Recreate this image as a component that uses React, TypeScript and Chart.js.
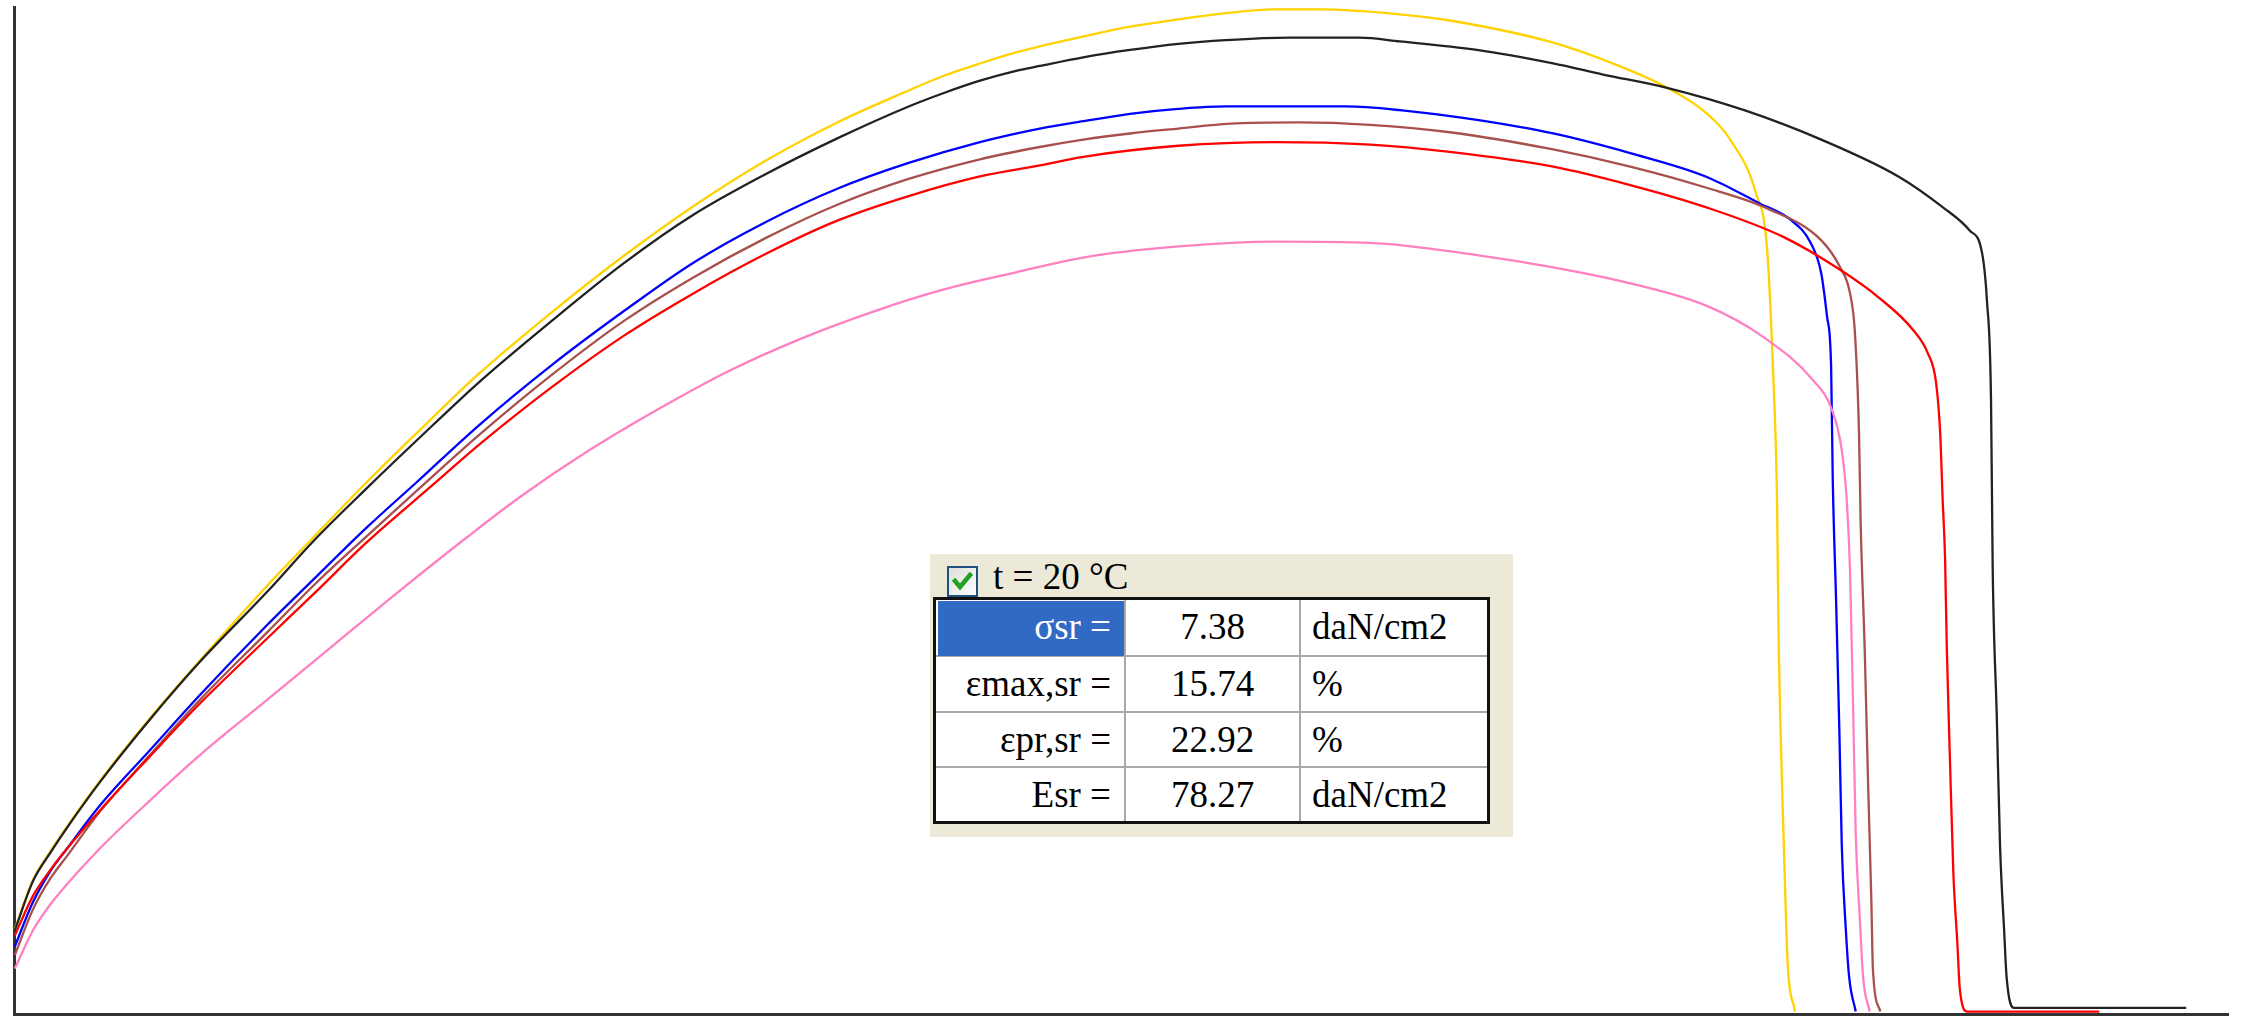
import React, { useEffect, useRef } from "react";
import { Chart, registerables } from "chart.js";

Chart.register(...registerables);

const W = 2244;
const H = 1021;

// strain (%) and stress (daN/cm2)
const yellowStrain = [0.01, 0.23, 0.44, 0.65, 1.05, 1.66, 2.27, 3.09, 3.65, 4.3, 4.91, 5.68, 6.55, 7.43, 8.29, 9.17, 10.04, 10.91, 11.34, 11.78, 12.22, 12.51, 13.04, 13.61, 14.2, 14.78, 15.37, 15.95, 16.9, 17.51, 18.77, 19.46, 20.17, 20.63, 20.96, 21.24, 21.38, 21.45, 21.5, 21.52, 21.56, 21.6, 21.63, 21.72];
const yellowStress = [0.69, 1.09, 1.32, 1.53, 1.9, 2.41, 2.88, 3.49, 3.88, 4.33, 4.73, 5.22, 5.71, 6.17, 6.58, 6.95, 7.26, 7.52, 7.64, 7.74, 7.83, 7.88, 7.96, 8.04, 8.1, 8.15, 8.18, 8.18, 8.14, 8.09, 7.91, 7.75, 7.54, 7.34, 7.09, 6.69, 6.22, 5.27, 4.19, 3.06, 1.9, 0.99, 0.41, 0.02];

const blackStrain = [0.01, 0.23, 0.44, 0.65, 1.05, 1.66, 2.27, 3.09, 3.65, 4.3, 4.91, 5.68, 6.55, 7.43, 8.29, 9.17, 10.04, 10.91, 11.34, 11.78, 12.22, 12.51, 13.04, 13.61, 14.2, 14.78, 15.56, 16.41, 16.9, 17.84, 18.77, 19.38, 20.17, 21.1, 22.04, 22.98, 23.52, 23.85, 24.0, 24.06, 24.11, 24.13, 24.18, 24.22, 24.27, 24.3, 24.39, 26.49];
const blackStress = [0.68, 1.08, 1.31, 1.52, 1.89, 2.4, 2.87, 3.44, 3.85, 4.28, 4.67, 5.15, 5.64, 6.11, 6.51, 6.84, 7.13, 7.39, 7.5, 7.6, 7.68, 7.72, 7.79, 7.85, 7.9, 7.93, 7.95, 7.95, 7.92, 7.85, 7.74, 7.65, 7.54, 7.36, 7.12, 6.82, 6.57, 6.38, 6.2, 5.81, 5.0, 3.65, 2.43, 1.37, 0.68, 0.3, 0.05, 0.05];

const blueStrain = [0.01, 0.23, 0.44, 0.65, 1.05, 1.66, 2.27, 3.09, 3.7, 4.3, 4.91, 5.68, 6.55, 7.43, 8.29, 9.17, 10.04, 10.91, 11.78, 12.51, 13.04, 13.61, 14.2, 14.78, 16.24, 16.9, 17.84, 18.77, 19.71, 20.63, 21.29, 21.66, 21.91, 22.04, 22.11, 22.16, 22.18, 22.22, 22.26, 22.29, 22.34, 22.38, 22.46];
const blueStress = [0.55, 0.91, 1.16, 1.35, 1.7, 2.15, 2.6, 3.17, 3.57, 3.96, 4.33, 4.8, 5.28, 5.72, 6.12, 6.45, 6.72, 6.93, 7.1, 7.21, 7.27, 7.33, 7.37, 7.39, 7.39, 7.36, 7.28, 7.17, 7.01, 6.82, 6.6, 6.47, 6.28, 6.03, 5.68, 5.27, 4.35, 3.38, 2.32, 1.37, 0.68, 0.3, 0.02];

const brownStrain = [0.01, 0.23, 0.44, 0.65, 1.05, 1.66, 2.27, 3.09, 3.7, 4.3, 4.91, 5.68, 6.55, 7.43, 8.29, 9.17, 10.04, 10.91, 11.78, 12.51, 13.04, 13.61, 14.2, 14.83, 15.66, 16.54, 17.51, 18.77, 19.71, 20.63, 21.38, 22.04, 22.27, 22.39, 22.45, 22.5, 22.52, 22.57, 22.61, 22.65, 22.67, 22.76];
const brownStress = [0.48, 0.85, 1.1, 1.29, 1.65, 2.11, 2.56, 3.11, 3.52, 3.89, 4.26, 4.72, 5.2, 5.64, 6.0, 6.32, 6.59, 6.8, 6.96, 7.06, 7.12, 7.17, 7.21, 7.25, 7.26, 7.24, 7.18, 7.04, 6.9, 6.73, 6.56, 6.3, 6.08, 5.87, 5.55, 4.73, 4.01, 2.96, 1.9, 0.94, 0.36, 0.02];

const redStrain = [0.01, 0.23, 0.44, 0.65, 1.05, 1.66, 2.27, 3.09, 3.7, 4.3, 5.11, 5.68, 6.55, 7.43, 8.29, 9.17, 10.04, 10.91, 11.78, 12.51, 13.04, 14.2, 15.37, 16.54, 17.51, 18.77, 19.71, 20.63, 21.57, 22.27, 22.73, 23.16, 23.34, 23.44, 23.49, 23.52, 23.55, 23.57, 23.61, 23.65, 23.7, 23.73, 23.82, 25.43];
const redStress = [0.64, 0.96, 1.17, 1.35, 1.66, 2.1, 2.53, 3.06, 3.45, 3.84, 4.31, 4.64, 5.1, 5.52, 5.87, 6.19, 6.46, 6.66, 6.82, 6.91, 6.98, 7.07, 7.1, 7.08, 7.02, 6.9, 6.75, 6.57, 6.33, 6.06, 5.84, 5.57, 5.38, 5.14, 4.73, 4.19, 3.7, 3.0, 2.05, 1.16, 0.57, 0.2, 0.02, 0.02];

const pinkStrain = [0.01, 0.23, 0.44, 0.65, 1.05, 1.66, 2.27, 3.09, 3.89, 4.71, 5.52, 6.17, 6.99, 7.87, 8.73, 9.6, 10.48, 11.34, 12.22, 13.04, 14.2, 15.37, 16.54, 17.84, 18.77, 19.71, 20.63, 21.34, 21.94, 22.17, 22.29, 22.35, 22.39, 22.43, 22.46, 22.51, 22.55, 22.63];
const pinkStress = [0.37, 0.68, 0.89, 1.06, 1.35, 1.74, 2.11, 2.56, 3.0, 3.45, 3.88, 4.21, 4.58, 4.93, 5.24, 5.5, 5.72, 5.9, 6.04, 6.16, 6.25, 6.29, 6.28, 6.18, 6.08, 5.95, 5.77, 5.51, 5.16, 4.92, 4.59, 4.19, 3.62, 2.43, 1.47, 0.78, 0.3, 0.02];

const seriesLabels = ["1", "2", "3", "4", "5", "6"];
const seriesColors = ["#FF80C0", "#FF0000", "#A8504E", "#0000FF", "#222222", "#FFD200"];
const seriesStrain = [pinkStrain, redStrain, brownStrain, blueStrain, blackStrain, yellowStrain];
const seriesStress = [pinkStress, redStress, brownStress, blueStress, blackStress, yellowStress];

const strainMax = 27;
const stressMax = 8.2;

const headerText = "t = 20 °C";
const tableLabels = ["σsr =", "εmax,sr =", "εpr,sr =", "Esr ="];
const tableValues = ["7.38", "15.74", "22.92", "78.27"];
const tableUnits = ["daN/cm2", "%", "%", "daN/cm2"];

const FONT = "'Liberation Serif', 'Times New Roman', serif";

function Checkbox() {
  return (
    <svg width={31} height={31} viewBox="0 0 31 31" style={{ position: "absolute", left: 947, top: 566 }}>
      <defs>
        <linearGradient id="cbg" x1="0" y1="0" x2="1" y2="1">
          <stop offset="0" stopColor="#DCDCD7" />
          <stop offset="1" stopColor="#FFFFFF" />
        </linearGradient>
      </defs>
      <rect x={1} y={1} width={29} height={29} fill="url(#cbg)" stroke="#1C5180" strokeWidth={2} />
      <path d="M8 15 L13 21 L23 9" fill="none" stroke="#21A121" strokeWidth={4.5} strokeLinecap="square" />
    </svg>
  );
}

function Overlay() {
  const colX = [935, 1125, 1300, 1488];
  const rowY = [598, 656, 712, 767, 822];
  const cells: React.ReactNode[] = [];
  for (let r = 0; r < 4; r++) {
    const top = rowY[r];
    const h = rowY[r + 1] - rowY[r];
    const sel = r === 0;
    if (sel) {
      cells.push(
        <div key={"sel"} style={{ position: "absolute", left: 938, top: 601, width: colX[1] - 939, height: h - 3, background: "#316AC5" }} />
      );
    }
    cells.push(
      <div key={"l" + r} style={{ position: "absolute", left: colX[0], top, width: colX[1] - colX[0] - 14, height: h, lineHeight: h + "px", textAlign: "right", color: sel ? "#FFFFFF" : "#000000", whiteSpace: "nowrap" }}>
        {tableLabels[r]}
      </div>
    );
    cells.push(
      <div key={"v" + r} style={{ position: "absolute", left: colX[1], top, width: colX[2] - colX[1], height: h, lineHeight: h + "px", textAlign: "center", color: "#000", whiteSpace: "nowrap" }}>
        {tableValues[r]}
      </div>
    );
    cells.push(
      <div key={"u" + r} style={{ position: "absolute", left: colX[2] + 12, top, width: colX[3] - colX[2] - 12, height: h, lineHeight: h + "px", textAlign: "left", color: "#000", whiteSpace: "nowrap" }}>
        {tableUnits[r]}
      </div>
    );
  }
  const lines: React.ReactNode[] = [];
  [colX[1], colX[2]].forEach((x, i) =>
    lines.push(<div key={"vl" + i} style={{ position: "absolute", left: x - 1, top: rowY[0], width: 2, height: rowY[4] - rowY[0], background: "#A9A9A9" }} />)
  );
  [rowY[1], rowY[2], rowY[3]].forEach((y, i) =>
    lines.push(<div key={"hl" + i} style={{ position: "absolute", left: colX[0], top: y - 1, width: colX[3] - colX[0], height: 2, background: "#A9A9A9" }} />)
  );
  return (
    <div style={{ position: "absolute", left: 0, top: 0, width: W, height: H, pointerEvents: "none", fontFamily: FONT, fontSize: 37 }}>
      <div style={{ position: "absolute", left: 930, top: 554, width: 583, height: 283, background: "#ECE9D8" }} />
      <Checkbox />
      <div style={{ position: "absolute", left: 993, top: 556, height: 42, lineHeight: "42px", color: "#000", whiteSpace: "nowrap" }}>{headerText}</div>
      <div style={{ position: "absolute", left: 934, top: 598, width: 555, height: 225, background: "#FFFFFF" }} />
      {lines}
      {cells}
      <div style={{ position: "absolute", left: 933, top: 597, width: 557, height: 227, boxSizing: "border-box", border: "3px solid #111" }} />
    </div>
  );
}

export default function App() {
  const ref = useRef<HTMLCanvasElement | null>(null);
  useEffect(() => {
    if (!ref.current) return;
    const datasets = seriesLabels.map((label, i) => ({
      label,
      data: seriesStrain[i].map((x, j) => ({ x, y: seriesStress[i][j] })),
      borderColor: seriesColors[i],
      backgroundColor: seriesColors[i],
      borderWidth: 2.3,
      pointRadius: 0,
      fill: false,
      cubicInterpolationMode: "monotone" as const,
      clip: false as any,
    }));
    const axisBorder = { display: true, color: "#333333", width: 3 };
    const chart = new Chart(ref.current, {
      type: "line",
      data: { datasets },
      options: {
        responsive: false,
        animation: false,
        devicePixelRatio: 1,
        layout: { padding: { left: 14, top: 7, right: 16, bottom: 7 } },
        plugins: { legend: { display: false }, tooltip: { enabled: false } },
        scales: {
          x: { type: "linear", min: 0, max: strainMax, grid: { display: false, drawTicks: false }, ticks: { display: false }, border: axisBorder },
          y: { type: "linear", min: 0, max: stressMax, grid: { display: false, drawTicks: false }, ticks: { display: false }, border: axisBorder },
        },
      },
    });
    return () => chart.destroy();
  }, []);
  return (
    <div style={{ position: "absolute", left: 0, top: 0, width: W, height: H, background: "#FFFFFF" }}>
      <canvas ref={ref} width={W} height={H} style={{ position: "absolute", left: 0, top: 0, width: W, height: H }} />
      <Overlay />
    </div>
  );
}
